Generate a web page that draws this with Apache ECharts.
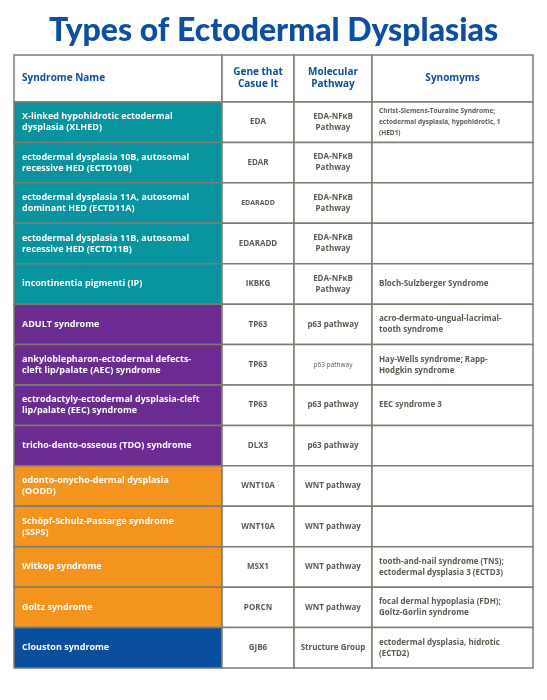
<!DOCTYPE html>
<html><head><meta charset="utf-8">
<script src="https://cdn.jsdelivr.net/npm/echarts@6/dist/echarts.min.js"></script>
<style>html,body{margin:0;padding:0;background:#fff}#c{width:547px;height:700px}</style>
</head><body><div id="c"></div>
<script>
const headers = ["Syndrome Name", "Gene that\nCasue It", "Molecular\nPathway", "Synomyms"];
const syndromes = [
  "X-linked hypohidrotic ectodermal\ndysplasia (XLHED)",
  "ectodermal dysplasia 10B, autosomal\nrecessive HED (ECTD10B)",
  "ectodermal dysplasia 11A, autosomal\ndominant HED (ECTD11A)",
  "ectodermal dysplasia 11B, autosomal\nrecessive HED (ECTD11B)",
  "incontinentia pigmenti (IP)",
  "ADULT syndrome",
  "ankyloblepharon-ectodermal defects-\ncleft lip/palate (AEC) syndrome",
  "ectrodactyly-ectodermal dysplasia-cleft\nlip/palate (EEC) syndrome",
  "tricho-dento-osseous (TDO) syndrome",
  "odonto-onycho-dermal dysplasia\n(OODD)",
  "Schöpf-Schulz-Passarge syndrome\n(SSPS)",
  "Witkop syndrome",
  "Goltz syndrome",
  "Clouston syndrome"
];
const genes = ["EDA","EDAR","EDARADD","EDARADD","IKBKG","TP63","TP63","TP63","DLX3","WNT10A","WNT10A","MSX1","PORCN","GJB6"];
const pathways = ["EDA-NFκB\nPathway","EDA-NFκB\nPathway","EDA-NFκB\nPathway","EDA-NFκB\nPathway","EDA-NFκB\nPathway",
  "p63 pathway","p63 pathway","p63 pathway","p63 pathway","WNT pathway","WNT pathway","WNT pathway","WNT pathway","Structure Group"];
const synonyms = [
  "Christ-Siemens-Touraine Syndrome;\nectodermal dysplasia, hypohidrotic, 1\n(HED1)",
  "","","",
  "Bloch-Sulzberger Syndrome",
  "acro-dermato-ungual-lacrimal-\ntooth syndrome",
  "Hay-Wells syndrome; Rapp-\nHodgkin syndrome",
  "EEC syndrome 3",
  "","","",
  "tooth-and-nail syndrome (TNS);\nectodermal dysplasia 3 (ECTD3)",
  "focal dermal hypoplasia (FDH);\nGoltz-Gorlin syndrome",
  "ectodermal dysplasia, hidrotic\n(ECTD2)"
];
const groups = ["EDA","EDA","EDA","EDA","EDA","p63","p63","p63","p63","WNT","WNT","WNT","WNT","Structure"];
const groupColors = {EDA:"#08939e", p63:"#6a2c90", WNT:"#f5931f", Structure:"#0a4f9e"};

const colEdges = [0, 208, 280, 358, 519];
const rowLabels = ["header"].concat(syndromes.map((s,i)=>"r"+i));
const rowWeights = [47].concat(syndromes.map(()=>40.43));
const rowEdges = [0]; rowWeights.forEach(w=>rowEdges.push(rowEdges[rowEdges.length-1]+w));

const data = [];
headers.forEach((h,c)=>data.push([c,0,h]));
syndromes.forEach((s,r)=>{
  data.push([0,r+1,s]); data.push([1,r+1,genes[r]]);
  data.push([2,r+1,pathways[r]]); data.push([3,r+1,synonyms[r]]);
});

const chart = echarts.init(document.getElementById('c'));
chart.setOption({
  animation:false,
  title:{text:"Types of Ectodermal Dysplasias", left:"center", top:10,
    textStyle:{fontFamily:"Lato", fontWeight:900, fontSize:32, color:"#0b4ea2"}},
  grid:{left:14, right:14, top:55, bottom:32},
  xAxis:{type:"value", min:0, max:colEdges[colEdges.length-1], show:false},
  yAxis:{type:"value", min:0, max:rowEdges[rowEdges.length-1], inverse:true, show:false},
  series:[{
    type:"custom",
    data:data,
    renderItem:(params, api)=>{
      const c = api.value(0), r = api.value(1);
      const item = data[params.dataIndex];
      const p0 = api.coord([colEdges[c], rowEdges[r]]);
      const p1 = api.coord([colEdges[c+1], rowEdges[r+1]]);
      const w = p1[0]-p0[0], h = p1[1]-p0[1];
      let fill = "#fff", color = "#5a5a50", font = "bold 8px 'Open Sans'", align = "center", x = p0[0]+w/2;
      if (r===0) { color = "#0b4ea2"; font = "bold 10px 'Open Sans'"; if (c===0){align="left"; x=p0[0]+8;} }
      else if (c===0) { fill = groupColors[groups[r-1]]; color="#fff"; font="bold 9px 'Open Sans'"; align="left"; x=p0[0]+8; }
      else if (c===3) { align="left"; x=p0[0]+7; font = r===1 ? "bold 6.5px 'Open Sans'" : "bold 8px 'Open Sans'"; }
      else if (c===2 && r===7) { font = "6.5px 'Open Sans'"; }
      else if (c===1 && (r===3)) { font = "bold 7px 'Open Sans'"; }
      return {type:"group", children:[
        {type:"rect", shape:{x:p0[0], y:p0[1], width:w, height:h},
          style:{fill:fill, stroke:"#7d7c70", lineWidth:1.5}},
        {type:"text", style:{text:item[2], x:x, y:p0[1]+h/2, textAlign:align, textVerticalAlign:"middle",
          font:font, fill:color, lineHeight: r===0?12:11}}
      ]};
    }
  }]
});
</script></body></html>
